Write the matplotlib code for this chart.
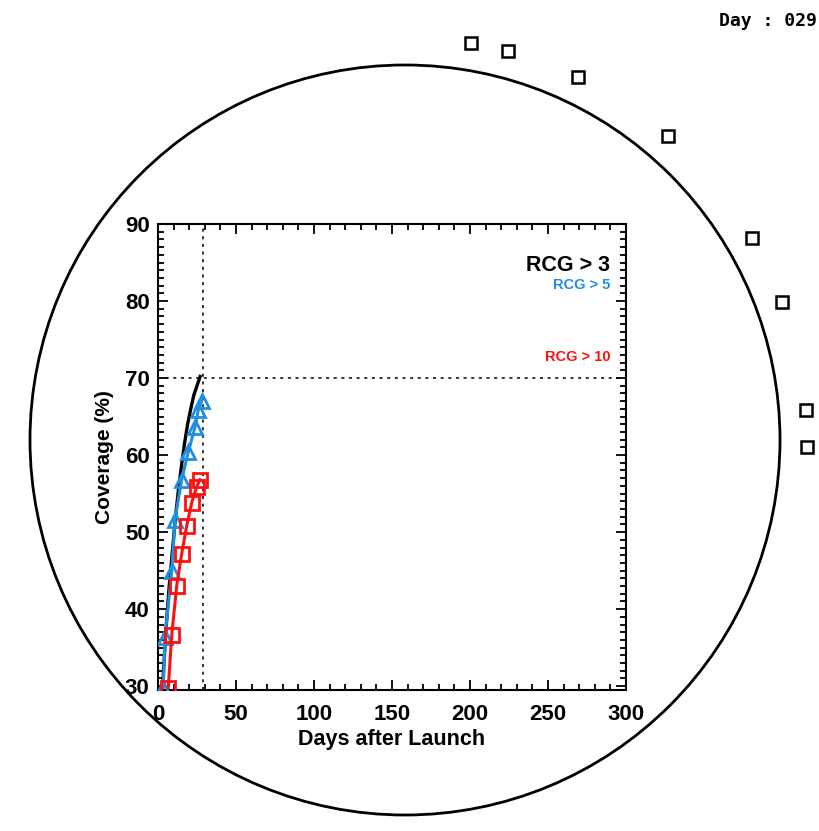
import numpy as np
import matplotlib
matplotlib.use('Agg')
import matplotlib.pyplot as plt
from matplotlib.patches import Circle
from matplotlib.ticker import MultipleLocator

plt.rcParams['font.family'] = ['Liberation Sans', 'DejaVu Sans']

# ── data ─────────────────────────────────────────────────────
day_now = 29

# RCG > 3 (black line, no markers)
days_rcg3 = [3, 5, 7, 9, 11, 13, 15, 17, 19, 21, 23, 25, 27]
cov_rcg3 = [30.0, 37.0, 42.5, 47.0, 51.5, 55.3, 58.5, 61.5, 64.0, 66.0, 67.8, 69.0, 70.2]

# RCG > 5 (blue triangles)
days_rcg5 = [3.4, 4.5, 8.8, 10.9, 15.2, 19.4, 23.7, 25.8, 28.0]
cov_rcg5 = [29.8, 36.4, 44.9, 51.6, 56.8, 60.4, 63.6, 65.8, 67.0]

# RCG > 10 (red squares)
days_rcg10 = [6.6, 8.8, 12.0, 15.2, 18.4, 21.6, 24.8, 26.9]
cov_rcg10 = [29.8, 36.6, 43.0, 47.2, 50.8, 53.8, 55.9, 56.8]

# satellite positions around the disc (angle in deg, radius in disc radii)
sat_angle = [80.6, 75.2, 64.5, 49.1, 30.2, 20.1, 4.3, -1.0]
sat_radius = [1.072, 1.072, 1.071, 1.071, 1.070, 1.070, 1.073, 1.073]

BLUE = '#1f8fe0'
RED = '#ff1010'

# ── figure ───────────────────────────────────────────────────
fig = plt.figure(figsize=(8.19, 8.31), dpi=100)

# background layer: disc outline + satellite squares
bg = fig.add_axes([0, 0, 1, 1], zorder=0)
bg.set_xlim(-405 / 375, (819 - 405) / 375)
bg.set_ylim(-(831 - 440) / 375, 440 / 375)
bg.axis('off')
bg.add_patch(Circle((0, 0), 1.0, fill=False, lw=2.0, ec='black'))
ang = np.radians(sat_angle)
r = np.array(sat_radius)
bg.plot(r * np.cos(ang), r * np.sin(ang), 's', ms=9, mfc='none', mec='black', mew=1.8)

fig.text(0.997, 0.975, f'Day : {day_now:03d}', ha='right', va='center',
         fontsize=13, fontweight='bold', family=['DejaVu Sans Mono'])

# coverage plot
ax = fig.add_axes([0.1929, 0.1697, 0.5714, 0.5607], zorder=2)
ax.set_facecolor('white')

ax.plot(days_rcg3, cov_rcg3, color='black', lw=2.4, zorder=3)
ax.plot(days_rcg5, cov_rcg5, color=BLUE, lw=2.2, marker='^', ms=10,
        mfc='none', mec=BLUE, mew=2.0, zorder=4)
ax.plot(days_rcg10, cov_rcg10, color=RED, lw=2.2, marker='s', ms=9.5,
        mfc='none', mec=RED, mew=2.0, zorder=5)

ax.axvline(day_now, color='black', lw=1.1, ls=(0, (2, 3)), zorder=2)
ax.axhline(70, color='black', lw=1.1, ls=(0, (2, 3)), zorder=2)

ax.set_xlim(0, 300)
ax.set_ylim(29.5, 90)
ax.xaxis.set_major_locator(MultipleLocator(50))
ax.xaxis.set_minor_locator(MultipleLocator(10))
ax.yaxis.set_major_locator(MultipleLocator(10))
ax.yaxis.set_minor_locator(MultipleLocator(1))
ax.tick_params(which='both', direction='in', top=True, right=True, width=1.3)
ax.tick_params(which='major', length=7, labelsize=16, pad=6)
ax.tick_params(axis='x', which='major', pad=10)
ax.tick_params(which='minor', length=4.5)
for lab in ax.get_xticklabels() + ax.get_yticklabels():
    lab.set_fontweight('bold')
for sp in ax.spines.values():
    sp.set_linewidth(1.5)

ax.set_xlabel('Days after Launch', fontsize=15.5, fontweight='bold', labelpad=3)
ax.set_ylabel('Coverage (%)', fontsize=15, fontweight='bold', labelpad=8)

ax.text(0.966, 0.910, 'RCG > 3', transform=ax.transAxes, ha='right', va='center',
        fontsize=15.5, fontweight='bold', color='black')
ax.text(0.966, 0.869, 'RCG > 5', transform=ax.transAxes, ha='right', va='center',
        fontsize=10.5, fontweight='bold', color=BLUE)
ax.text(0.966, 0.715, 'RCG > 10', transform=ax.transAxes, ha='right', va='center',
        fontsize=10.5, fontweight='bold', color=RED)

fig.savefig('out.png', dpi=100)
plt.close(fig)
